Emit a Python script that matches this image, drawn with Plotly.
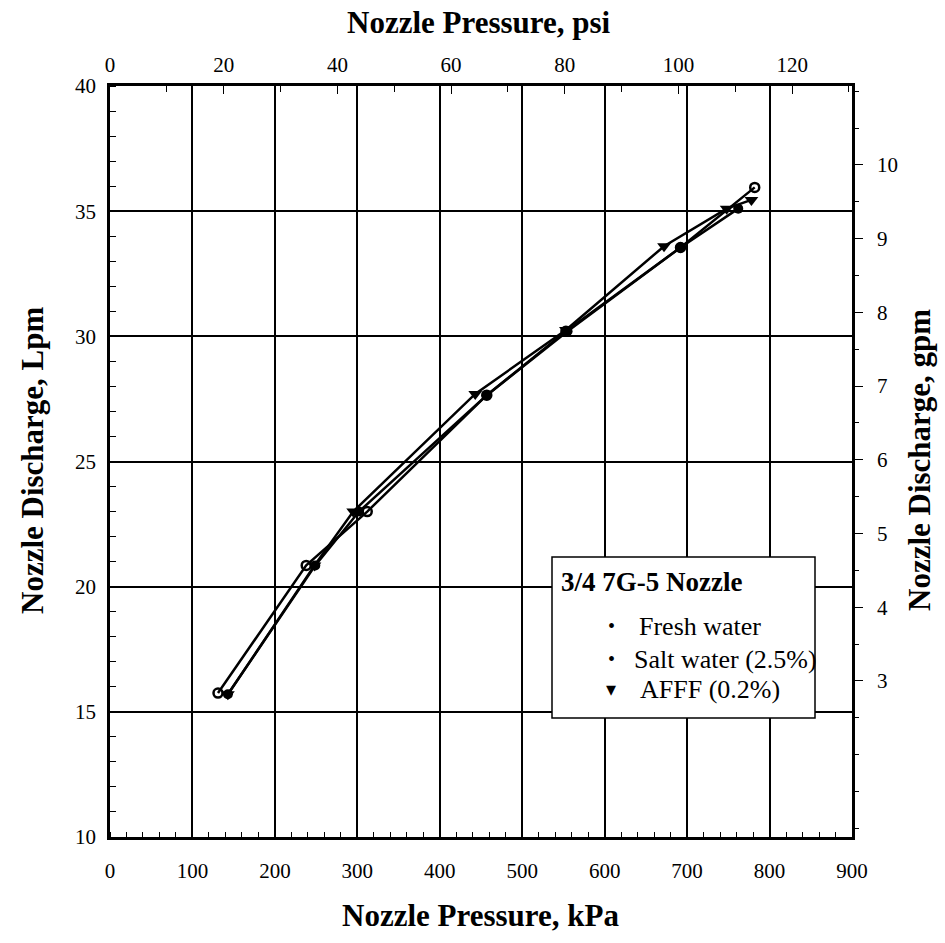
import plotly.graph_objects as go

# ---- data ----
fresh_kpa = [131, 238, 312, 457, 553, 692, 782]
fresh_lpm = [15.75, 20.85, 23.0, 27.65, 30.2, 33.55, 35.95]

salt_kpa = [143, 249, 302, 457, 555, 692, 762]
salt_lpm = [15.7, 20.85, 23.0, 27.65, 30.2, 33.55, 35.1]

afff_kpa = [143, 248, 295, 443, 553, 672, 748, 778]
afff_lpm = [15.7, 20.85, 23.0, 27.7, 30.25, 33.6, 35.1, 35.45]

kpa_ticks = [0, 100, 200, 300, 400, 500, 600, 700, 800, 900]
psi_ticks = [0, 20, 40, 60, 80, 100, 120]
lpm_ticks = [10, 15, 20, 25, 30, 35, 40]
gpm_ticks = [3, 4, 5, 6, 7, 8, 9, 10]

legend_title = "3/4 7G-5 Nozzle"
series_names = ["Fresh water", "Salt water (2.5%)", "AFFF (0.2%)"]

KPA_PER_PSI = 6.895
GPM_RANGE = [0.883, 11.07]

FONT = "Liberation Serif"
W, H = 945, 943
ML, MR, MT, MB = 110, 93, 86, 106
PW, PH = W - ML - MR, H - MT - MB


def px(x):
    return (x - ML) / PW


def py(y):
    return (H - MB - y) / PH


fig = go.Figure()

fig.add_trace(go.Scatter(x=fresh_kpa, y=fresh_lpm, mode="lines+markers", name=series_names[0],
                         line=dict(color="black", width=2.5),
                         marker=dict(symbol="circle-open", size=9, color="black", line=dict(width=2.5))))
fig.add_trace(go.Scatter(x=salt_kpa, y=salt_lpm, mode="lines+markers", name=series_names[1],
                         line=dict(color="black", width=2.5),
                         marker=dict(symbol="circle", size=10, color="black")))
fig.add_trace(go.Scatter(x=afff_kpa, y=afff_lpm, mode="lines+markers", name=series_names[2],
                         line=dict(color="black", width=2.5),
                         marker=dict(symbol="triangle-down", size=12, color="black")))

# invisible traces to activate the secondary axes
fig.add_trace(go.Scatter(x=[0, 120], y=[10, 10], xaxis="x2", yaxis="y", mode="markers",
                         marker=dict(opacity=0), showlegend=False, hoverinfo="skip"))
fig.add_trace(go.Scatter(x=[0, 900], y=[3, 10], xaxis="x", yaxis="y2", mode="markers",
                         marker=dict(opacity=0), showlegend=False, hoverinfo="skip"))

tickfont = dict(family=FONT, size=21, color="black")

fig.update_layout(
    width=W, height=H,
    margin=dict(l=ML, r=MR, t=MT, b=MB, autoexpand=False),
    paper_bgcolor="white", plot_bgcolor="white",
    showlegend=False,
    font=dict(family=FONT, color="black"),
    xaxis=dict(range=[0, 900], tickvals=kpa_ticks, showgrid=True, gridcolor="black", gridwidth=1.5,
               zeroline=False, showline=True, linecolor="black", linewidth=2.5,
               ticks="", tickfont=tickfont, ticklabelstandoff=13,
               minor=dict(dtick=20, ticks="inside", ticklen=5, tickcolor="black", tickwidth=1.2, showgrid=False)),
    xaxis2=dict(range=[0, 900 / KPA_PER_PSI], tickvals=psi_ticks, overlaying="x", side="top",
                showgrid=False, zeroline=False, showline=True, linecolor="black", linewidth=2.5,
                ticks="inside", ticklen=8, tickcolor="black", tickwidth=1.2, tickfont=tickfont,
                ticklabelstandoff=3,
                minor=dict(dtick=10, ticks="inside", ticklen=6, tickcolor="black", tickwidth=1.2)),
    yaxis=dict(range=[10, 40], tickvals=lpm_ticks, showgrid=True, gridcolor="black", gridwidth=1.5,
               zeroline=False, showline=True, linecolor="black", linewidth=2.5,
               ticks="", tickfont=tickfont, ticklabelstandoff=7,
               minor=dict(dtick=1, ticks="inside", ticklen=6, tickcolor="black", tickwidth=1.2, showgrid=False)),
    yaxis2=dict(range=GPM_RANGE, tickvals=gpm_ticks, overlaying="y", side="right",
                showgrid=False, zeroline=False, showline=True, linecolor="black", linewidth=2.5,
                ticks="outside", ticklen=8, tickcolor="black", tickwidth=1.2, tickfont=tickfont,
                ticklabelstandoff=10,
                minor=dict(dtick=0.5, ticks="outside", ticklen=4, tickcolor="black", tickwidth=1.2)),
)

title_font = dict(family=FONT, size=31, color="black")
annotations = [
    dict(text="<b>Nozzle Pressure, psi</b>", x=px(479), y=py(22), xref="paper", yref="paper",
         showarrow=False, font=title_font, xanchor="center", yanchor="middle"),
    dict(text="<b>Nozzle Pressure, kPa</b>", x=px(480), y=py(915), xref="paper", yref="paper",
         showarrow=False, font=title_font, xanchor="center", yanchor="middle"),
    dict(text="<b>Nozzle Discharge, Lpm</b>", x=px(32), y=py(460), xref="paper", yref="paper",
         showarrow=False, font=title_font, textangle=-90, xanchor="center", yanchor="middle"),
    dict(text="<b>Nozzle Discharge, gpm</b>", x=px(919), y=py(460), xref="paper", yref="paper",
         showarrow=False, font=title_font, textangle=-90, xanchor="center", yanchor="middle"),
    # legend
    dict(text="<b>" + legend_title + "</b>", x=px(559), y=py(582), xref="paper", yref="paper",
         showarrow=False, font=dict(family=FONT, size=27, color="black"), xanchor="left", yanchor="middle"),
]
leg_rows = [(626, "•", 637), (659, "•", 632), (689, "▾", 638)]
for (yy, sym, tx), name in zip(leg_rows, series_names):
    annotations.append(dict(text=sym, x=px(611), y=py(yy), xref="paper", yref="paper", showarrow=False,
                            font=dict(family=FONT, size=20, color="black"), xanchor="center", yanchor="middle"))
    annotations.append(dict(text=name, x=px(tx), y=py(yy), xref="paper", yref="paper", showarrow=False,
                            font=dict(family=FONT, size=26, color="black"), xanchor="left", yanchor="middle"))
fig.update_layout(annotations=annotations)

fig.add_shape(type="rect", xref="paper", yref="paper", x0=px(552), x1=px(815), y0=py(718), y1=py(557),
              line=dict(color="black", width=1.5), fillcolor="white", layer="above")

fig.write_html("out.html")
